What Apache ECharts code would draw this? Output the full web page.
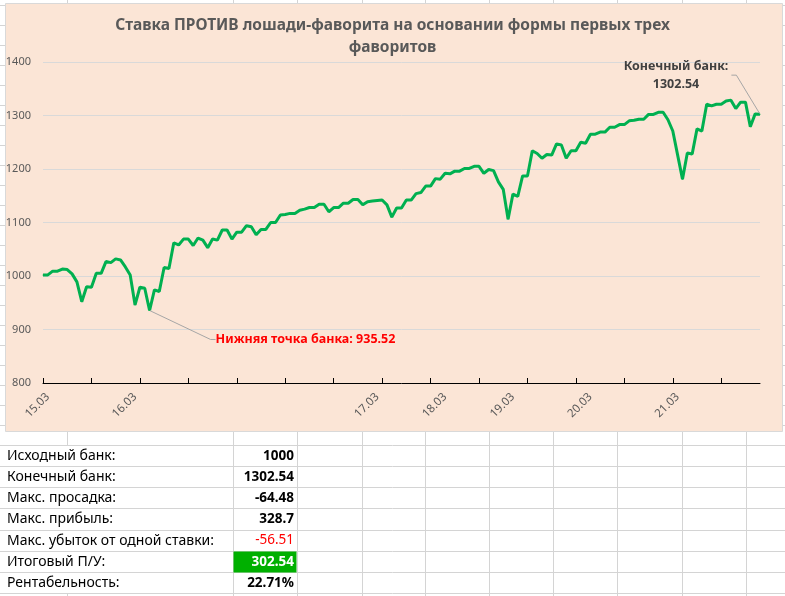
<!DOCTYPE html>
<html>
<head>
<meta charset="utf-8">
<script src="https://cdn.jsdelivr.net/npm/echarts@6/dist/echarts.min.js"></script>
<style>
  html, body { margin: 0; padding: 0; background: #fff; }
  #main { width: 785px; height: 596px; }
</style>
</head>
<body>
<div id="main"></div>
<script>
// банк после каждой ставки
var bank = [
  1002, 1002, 1009, 1009, 1013, 1012, 1004, 989, 952, 980, 979, 1005, 1005, 1027, 1025, 1032, 1030, 1017, 1002, 946, 979, 977, 935.52,
  974, 971, 1016, 1014, 1062, 1058, 1069, 1069, 1057, 1071, 1067, 1053, 1069, 1067, 1086, 1086, 1069, 1082, 1082, 1094, 1092, 1077,
  1087, 1087, 1100, 1100, 1114, 1115, 1117, 1117, 1123, 1125, 1128, 1128, 1134, 1134, 1120, 1128, 1128, 1136, 1136, 1143, 1143, 1133,
  1139, 1140, 1141, 1142, 1133, 1110, 1127, 1127,
  1142, 1142, 1154, 1156, 1168, 1168, 1182, 1181, 1192, 1191, 1196, 1196, 1201, 1201, 1205, 1205, 1192, 1199, 1197, 1176, 1162, 1106,
  1153, 1149, 1187, 1187,
  1234, 1229, 1220, 1227, 1226, 1247, 1245, 1220, 1234, 1234, 1250, 1248, 1265, 1265, 1269, 1269, 1278, 1278, 1283, 1283, 1290, 1291,
  1293, 1293, 1302,
  1302, 1306, 1306, 1292, 1271, 1226, 1181, 1230, 1228, 1275, 1271, 1321, 1318, 1321, 1321, 1327, 1328.7, 1313, 1325, 1325, 1279, 1303,
  1302.54
];
// подписи дней на оси X
var dayIndex = [1, 19, 69, 83, 97, 113, 131];
var dayNames = ['15.03', '16.03', '17.03', '18.03', '19.03', '20.03', '21.03'];

// таблица под графиком
var statNames = ['Исходный банк:', 'Конечный банк:', 'Макс. просадка:', 'Макс. прибыль:',
  'Макс. убыток от одной ставки:', 'Итоговый П/У:', 'Рентабельность:'];
var statValues = ['1000', '1302.54', '-64.48', '328.7', '-56.51', '302.54', '22.71%'];

var FONT = 'Noto Sans';
var minIdx = bank.indexOf(Math.min.apply(null, bank));
var lastIdx = bank.length - 1;

var races = bank.map(function (v, i) { return String(i + 1); });

var seriesData = bank.map(function (v, i) {
  if (i === minIdx) {
    return {
      value: v,
      label: {
        show: true,
        formatter: 'Нижняя точка банка: ' + v.toFixed(2),
        color: '#FF0000', fontWeight: 'bold', fontSize: 12.5, fontFamily: FONT,
        padding: [2, 6]
      }
    };
  }
  if (i === lastIdx) {
    return {
      value: v,
      label: {
        show: true,
        formatter: 'Конечный банк:\n' + v.toFixed(2),
        color: '#404040', fontWeight: 'bold', fontSize: 12.5, fontFamily: FONT,
        lineHeight: 18, align: 'center', padding: [0, 3]
      }
    };
  }
  return v;
});

// сетка листа Excel
var sheetCols = [67, 233, 297, 362, 425, 489, 553, 617, 682, 746];
var sheetRows = [];
for (var r = 5; r < 445; r += 20) sheetRows.push(r);
var tableRows = [445, 466.1, 487.3, 508.4, 529.6, 550.7, 571.9, 593];

var gridColor = '#D4D4D4';
var graphics = [];
sheetRows.concat(tableRows).forEach(function (y) {
  graphics.push({ type: 'line', z: -2, silent: true,
    shape: { x1: 0, y1: Math.round(y) + 0.5, x2: 785, y2: Math.round(y) + 0.5 },
    style: { stroke: gridColor, lineWidth: 1 } });
});
sheetCols.forEach(function (x) {
  var segs = x === 67 ? [[0, 445], [593, 596]] : [[0, 596]];
  segs.forEach(function (s) {
    graphics.push({ type: 'line', z: -2, silent: true,
      shape: { x1: x + 0.5, y1: s[0], x2: x + 0.5, y2: s[1] },
      style: { stroke: gridColor, lineWidth: 1 } });
  });
});
// область диаграммы
graphics.push({ type: 'rect', z: -1, silent: true,
  shape: { x: 5.5, y: 3.5, width: 777, height: 428 },
  style: { fill: '#FBE5D6', stroke: '#D9D9D9', lineWidth: 1 } });
// зелёная ячейка итога
graphics.push({ type: 'rect', z: -1, silent: true,
  shape: { x: 233.5, y: Math.round(tableRows[5]) + 0.5, width: 63, height: 21 },
  style: { fill: '#00B000' } });

statNames.forEach(function (name, i) {
  var cy = (tableRows[i] + tableRows[i + 1]) / 2 + 0.5;
  graphics.push({ type: 'text', z: 5, silent: true, x: 7, y: cy,
    style: { text: name, fill: '#000', font: '14px "' + FONT + '"', textAlign: 'left', textVerticalAlign: 'middle' } });
  var col = '#000', weight = 'bold';
  if (i === 4) { col = '#FF0000'; weight = 'normal'; }
  if (i === 5) { col = '#FFFFFF'; }
  graphics.push({ type: 'text', z: 5, silent: true, x: 294, y: cy,
    style: { text: statValues[i], fill: col, font: weight + ' 13.5px "' + FONT + '"', textAlign: 'right', textVerticalAlign: 'middle' } });
});

var chart = echarts.init(document.getElementById('main'));
chart.setOption({
  animation: false,
  backgroundColor: '#FFFFFF',
  textStyle: { fontFamily: FONT },
  title: {
    text: 'Ставка ПРОТИВ лошади-фаворита на основании формы первых трех\nфаворитов',
    left: 'center',
    top: 10,
    textStyle: { fontSize: 15.5, fontWeight: 'bold', color: '#595959', lineHeight: 22, fontFamily: FONT }
  },
  grid: { left: 43, right: 25, top: 62, bottom: 213, containLabel: false },
  xAxis: {
    type: 'category',
    data: races,
    boundaryGap: false,
    axisLine: { lineStyle: { color: '#000000', width: 1 } },
    axisTick: {
      inside: true, length: 5,
      interval: function (index) { return index % 10 === 0; },
      lineStyle: { color: '#000000' }
    },
    axisLabel: {
      interval: function (index) { return dayIndex.indexOf(index) >= 0; },
      formatter: function (value, index) {
        var k = dayIndex.indexOf(index);
        return k >= 0 ? dayNames[k] : '';
      },
      rotate: 45, margin: 12, color: '#595959', fontSize: 11.5, fontFamily: FONT
    },
    splitLine: { show: false }
  },
  yAxis: {
    type: 'value',
    min: 800, max: 1400, interval: 100,
    axisLine: { show: false },
    axisTick: { show: false },
    axisLabel: {
      color: '#595959', fontSize: 11, margin: 12, fontFamily: FONT,
      formatter: function (v) { return String(v); }
    },
    splitLine: { lineStyle: { color: '#D9D9D9', width: 1 } }
  },
  series: [{
    type: 'line',
    data: seriesData,
    showSymbol: true,
    showAllSymbol: true,
    symbol: 'circle',
    symbolSize: 1,
    itemStyle: { color: '#00B050' },
    lineStyle: { color: '#00B050', width: 3 },
    label: { show: false },
    labelLine: { show: true, length2: 5, lineStyle: { color: '#A6A6A6', width: 1 } },
    labelLayout: function (p) {
      var px = p.rect.x + p.rect.width / 2;
      var py = p.rect.y + p.rect.height / 2;
      if (p.dataIndex === minIdx) {
        return { x: px + 60, y: py + 29, align: 'left', verticalAlign: 'middle' };
      }
      if (p.dataIndex === lastIdx) {
        return { x: px - 84, y: py - 39, align: 'center', verticalAlign: 'middle' };
      }
      return {};
    },
    emphasis: { disabled: true },
    silent: true
  }],
  graphic: { elements: graphics }
});
</script>
</body>
</html>
